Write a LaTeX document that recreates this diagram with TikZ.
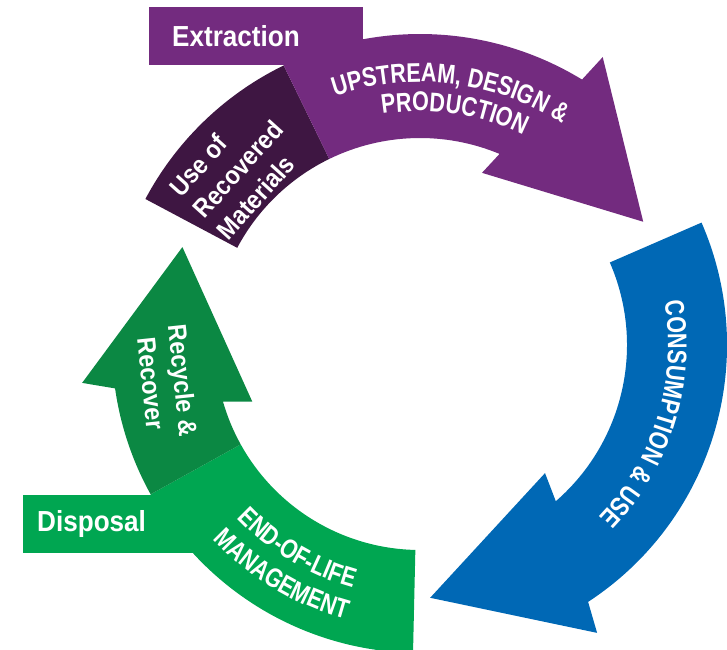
\documentclass[tikz,border=0pt]{standalone}
\usepackage{fontspec}
\setmainfont{Liberation Sans}[FakeStretch=0.9]
\newfontfamily\condfont{Liberation Sans}[FakeStretch=0.8]
\usetikzlibrary{decorations.text}
\definecolor{purp}{HTML}{732B7F}
\definecolor{darkpurp}{HTML}{3E1642}
\definecolor{cblue}{HTML}{0068B5}
\definecolor{lgreen}{HTML}{00A651}
\definecolor{dgreen}{HTML}{0B8843}
\newcommand\bandfont{\condfont\fontsize{27}{27}\selectfont\bfseries}

\begin{document}
\begin{tikzpicture}[x=1pt, y=1pt,
  box/.style={fill=#1, text=white, minimum height=58, anchor=north west, align=left,
    font=\fontsize{29}{29}\selectfont\bfseries},
  smalltext/.style={text=white, align=left, font=\fontsize{26}{32}\selectfont\bfseries},
  bandtext/.style={decorate, decoration={text along path, text align=center,
    text color=white, text={|\bandfont|#1}}}]
%\draw [help lines, step=50] (0,0) grid (727,649);
\useasboundingbox (0,0) rectangle (727,649);
\begin{scope}[shift={(420,304)}]
\fill [darkpurp] (152:311) arc[start angle=152, end angle=116, radius=311] -- (116:207) arc[start angle=116, end angle=152, radius=207] -- cycle;
\fill [purp] (116:311) arc[start angle=116, end angle=58.6, radius=311] -- (57.6:341) -- (28.9:255) -- (70.2:183) -- (67.4:207) arc[start angle=67.4, end angle=116, radius=207] -- cycle;
\fill [cblue] (23.5:307) arc[start angle=23.5, end angle=-56.8, radius=307] -- (-58.4:338) -- (-87.7:253) -- (-45.7:179) -- (-49:207) arc[start angle=-49, end angle=23.5, radius=207] -- cycle;
\fill [lgreen] (209:308) arc[start angle=209, end angle=268.7, radius=308] -- (268.7:205) arc[start angle=268.7, end angle=209, radius=205] -- cycle;
\fill [dgreen] (209:308) arc[start angle=209, end angle=188.1, radius=308] -- (186.4:340) -- (157.6:257) -- (198.7:177) -- (196:205) arc[start angle=196, end angle=209, radius=205] -- cycle;
\path [bandtext={UPSTREAM, DESIGN {\&}}] (123:263) arc[start angle=123, end angle=43, radius=263];
\path [bandtext={PRODUCTION}] (121.5:234) arc[start angle=121.5, end angle=41.5, radius=234];
\path [bandtext={CONSUMPTION {\&} USE}] (23:248) arc[start angle=23, end angle=-57, radius=248];
\path [bandtext={END-OF-LIFE}] (-161:252) arc[start angle=-161, end angle=-81, radius=252];
\path [bandtext={MANAGEMENT}] (-161:284) arc[start angle=-161, end angle=-81, radius=284];
\end{scope}
\node (extraction) [box=purp, inner xsep=23, text width=168] at (149,642) {Extraction};
\node (disposal) [box=lgreen, inner xsep=14, text width=146] at (23,154) {Disposal};
\node (recovered) [smalltext, rotate=48] at (238,480) {Use of\\Recovered\\Materials};
\node (recycle) [smalltext, align=center, rotate=-84] at (167,267) {Recycle \&\\Recover};
\end{tikzpicture}
\end{document}
